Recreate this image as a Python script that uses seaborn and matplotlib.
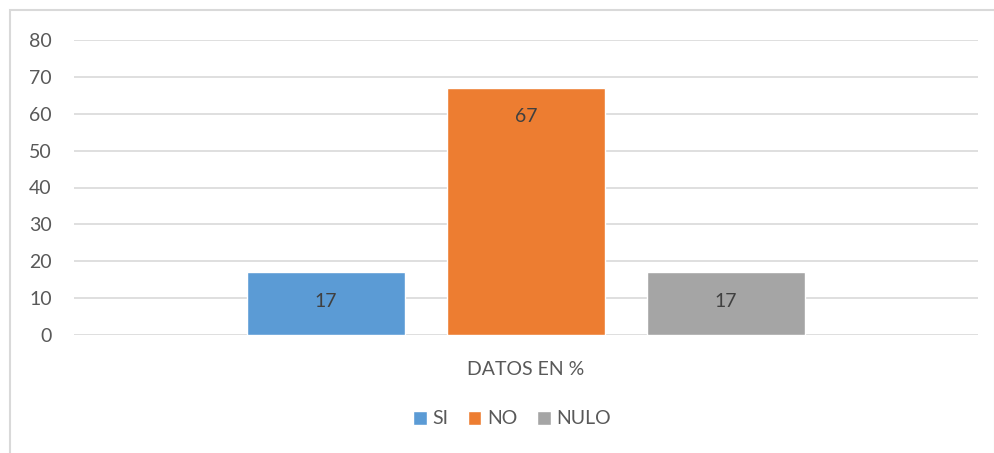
import matplotlib
matplotlib.use("Agg")
import matplotlib.pyplot as plt
import seaborn as sns
import pandas as pd
from matplotlib.patches import Rectangle

categories = ["DATOS EN %"]
series = ["SI", "NO", "NULO"]
values = [17, 67, 17]
colors = ["#5B9BD5", "#ED7D31", "#A5A5A5"]
yticks = [0, 10, 20, 30, 40, 50, 60, 70, 80]

df = pd.DataFrame({"cat": categories * len(series), "serie": series, "val": values})

sns.set_style("white")
plt.rcParams["font.family"] = ["Lato", "DejaVu Sans"]
txt = "#595959"
fs = 14

fig = plt.figure(figsize=(9.95, 4.53), dpi=100)
ax = fig.add_axes([74 / 995, 1 - 335 / 453, (978 - 74) / 995, (335 - 40) / 453])

sns.barplot(data=df, x="cat", y="val", hue="serie", hue_order=series,
            palette=colors, width=0.664, gap=0.21, ax=ax, legend=True,
            saturation=1, errorbar=None)

ax.set_ylim(0, 80)
ax.set_xlim(-0.5, 0.5)
ax.set_yticks(yticks)
ax.yaxis.grid(True, color="#D9D9D9", linewidth=1.2)
ax.set_axisbelow(True)
for s in ax.spines.values():
    s.set_visible(False)
ax.tick_params(axis="y", length=0, pad=16, labelsize=fs, labelcolor=txt)
ax.tick_params(axis="x", length=0, pad=19, labelsize=fs, labelcolor=txt)
ax.set_xlabel("")
ax.set_ylabel("")

for c in ax.containers:
    ax.bar_label(c, label_type="edge", padding=-27, fontsize=fs, color="#404040")

ax.legend(loc="center", bbox_to_anchor=(512 / 995, 1 - 419 / 453),
          bbox_transform=fig.transFigure, ncol=3, frameon=False,
          fontsize=fs, labelcolor=txt, handlelength=0.7, handleheight=0.7,
          handletextpad=0.3, columnspacing=1.0)

fig.patches.append(Rectangle((10 / 995, -0.01), 985 / 995, 1 - 10 / 453 + 0.01,
                             transform=fig.transFigure, fill=False,
                             edgecolor="#D9D9D9", linewidth=1.5))

fig.savefig("out.png", dpi=100)
